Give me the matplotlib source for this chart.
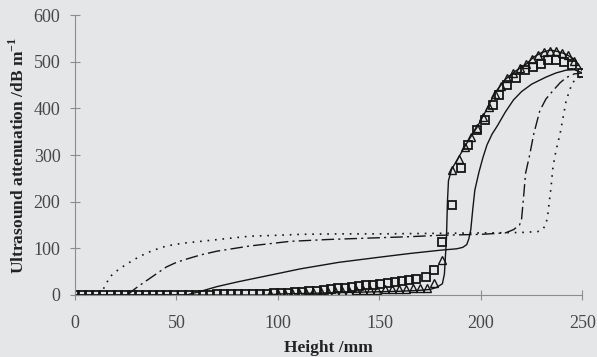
import matplotlib
matplotlib.use("Agg")
import matplotlib.pyplot as plt

plt.rcParams['font.family'] = ['Liberation Serif', 'DejaVu Serif']

## Curve data (height in mm, attenuation in dB/m)

# dotted curve
dot_x = [12, 15, 17, 20, 24, 28, 32, 38, 45, 53, 62, 75, 86, 100, 111, 130, 150, 175, 200, 220, 228,
         230, 232, 233, 234.5, 235.5, 237, 239, 242, 245, 248, 250]
dot_y = [0, 20, 38, 50, 62, 73, 83, 95, 105, 111, 115, 121, 126, 128, 130, 131, 131, 132, 133, 134, 136,
         139, 150, 175, 230, 275, 310, 346, 417, 455, 466, 468]

# dash-dot curve
dd_x = [26, 28, 31, 35, 40, 45, 50, 55, 62, 70, 86, 106, 125, 145, 165, 180, 200, 212, 216,
        219, 220, 221, 222, 224, 226, 229, 232, 235.5, 239, 242, 246, 250]
dd_y = [0, 8, 18, 30, 45, 60, 70, 77, 86, 94, 105, 115, 119, 122, 125, 128, 130, 133, 140,
        150, 162, 210, 261, 300, 345, 395, 420, 438, 455, 466, 474, 476]

# inner solid curve
mid_x = [0, 55, 62, 70, 80, 90, 100, 111, 130, 150, 165, 180, 188, 191, 193, 194, 195, 196, 197,
         199, 201, 203, 205.5, 208, 212, 216, 220, 225, 232, 237, 242, 246, 250]
mid_y = [0, 0, 8, 18, 28, 37, 46, 56, 70, 81, 89, 96, 99, 102, 108, 120, 140, 185, 225,
         263, 295, 322, 345, 362, 392, 418, 436, 452, 467, 476, 482, 483, 476]

# outer solid curve
out_x = [0, 95, 100, 120, 140, 150, 160, 170, 175, 178, 181, 182, 183, 183.5, 184, 185.5, 189,
         193.5, 198, 202, 207, 212, 216.7, 222.6, 226, 230, 234, 238, 242, 245, 248, 250]
out_y = [0, 0, 2, 4, 6, 7, 8, 10, 12, 16, 24, 45, 120, 200, 245, 269, 295,
         329, 359, 391, 434, 462, 479, 496, 510, 520, 525, 522, 516, 508, 495, 480]

# triangle points
tri_x = [96, 100, 103.5, 107, 110.5, 114, 117.5, 121, 124.5, 128, 131.5, 135, 138.5, 142, 145.5,
         149, 152.5, 156, 159.5, 163, 166.5, 170, 173.5, 177, 181, 185.5, 189, 192, 195, 198,
         201, 204, 207, 210, 213, 216, 219, 222, 225, 228, 231, 234, 237, 240, 243, 246]
tri_y = [2, 3, 3, 4, 5, 5, 6, 6, 7, 8, 8, 9, 10, 10, 11, 11, 12, 12, 13, 13, 14, 15, 16, 26, 75,
         268, 292, 318, 338, 358, 382, 404, 430, 448, 466, 476, 486, 496, 506, 514, 520, 524,
         523, 519, 514, 502]

# square points
sq_x = [0, 3.5, 7, 10.5, 14, 17.5, 21, 24.5, 28, 31.5, 35, 38.5, 42, 45.5, 49, 52.5, 56, 59.5,
        63, 66.5, 70, 73.5, 77, 80.5, 84, 87.5, 91, 94.5, 98, 101.5, 105, 108.5, 112, 115.5,
        119, 122.5, 126, 129.5, 133, 136.5, 140, 143.5, 147, 150.5, 154, 157.5, 161, 164.5,
        168, 173, 177, 181, 185.5, 190, 193.5, 198, 202, 206, 209, 213, 217.5, 221.7, 225.6,
        229.5, 233, 237, 241, 245, 250]
sq_y = [1, 1, 1, 1, 1, 1, 1, 1, 1, 1, 1, 1, 1, 1, 1, 1, 1, 1,
        1, 1, 2, 2, 2, 2, 2, 3, 3, 3, 4, 4, 5, 6, 7, 8,
        9, 10, 12, 14, 15, 17, 19, 21, 22, 24, 26, 28, 30, 32,
        34, 39, 54, 113, 193, 272, 321, 353, 375, 407, 428, 450, 465, 482, 488,
        496, 503, 503, 499, 492, 475]

## Plot

fig = plt.figure(figsize=(5.97, 3.57), dpi=100)
fig.patch.set_facecolor('#e4e6e8')
ax = fig.add_axes([0.1256, 0.1737, 0.850, 0.784])
ax.set_facecolor('#e4e6e8')

ink = '#151515'
ax.plot(dot_x, dot_y, color=ink, lw=1.2, linestyle=(0, (1, 3.5)))
ax.plot(dd_x, dd_y, color=ink, lw=1.0, linestyle=(0, (9, 3, 1.5, 3)))
ax.plot(mid_x, mid_y, color=ink, lw=1.0)
ax.plot(out_x, out_y, color=ink, lw=1.0)
ax.plot(tri_x, tri_y, linestyle='none', marker='^', ms=5.5, mfc='none', mec=ink, mew=1.0)
ax.plot(sq_x, sq_y, linestyle='none', marker='s', ms=6.2, mfc='none', mec=ink, mew=1.3)

ax.set_xlim(0, 250)
ax.set_ylim(0, 600)
ax.set_xticks([0, 50, 100, 150, 200, 250])
ax.set_yticks([0, 100, 200, 300, 400, 500, 600])

for side in ['top', 'right']:
    ax.spines[side].set_visible(False)
for side in ['left', 'bottom']:
    ax.spines[side].set_color('#8a8c8e')
    ax.spines[side].set_linewidth(0.8)

ax.tick_params(axis='both', direction='inout', length=7, width=0.8, color='#8a8c8e',
               labelsize=13, labelcolor='#474747')
ax.tick_params(axis='x', pad=11)
ax.tick_params(axis='y', pad=7)

ax.set_xlabel('Height /mm', fontsize=12.5, fontweight='bold', color='#222222', labelpad=6)
ax.set_ylabel('Ultrasound attenuation /dB m$^{\\mathregular{-1}}$', fontsize=12.5,
              fontweight='bold', color='#222222', labelpad=4)

fig.savefig('out.png', dpi=100, facecolor=fig.get_facecolor())
